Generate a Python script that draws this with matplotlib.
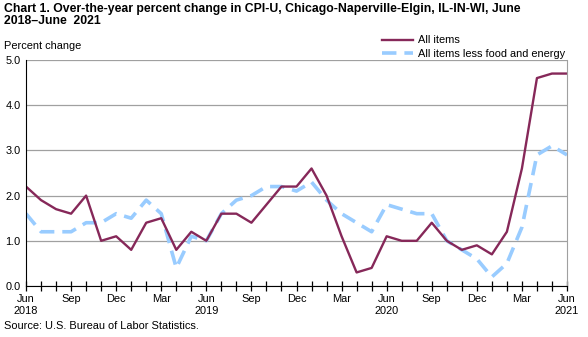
import matplotlib.pyplot as plt
import numpy as np

plt.rcParams['font.family'] = ['Liberation Sans', 'DejaVu Sans']

months = ['Jun\n2018', 'Jul', 'Aug', 'Sep', 'Oct', 'Nov', 'Dec',
          'Jan', 'Feb', 'Mar', 'Apr', 'May', 'Jun\n2019', 'Jul', 'Aug', 'Sep', 'Oct', 'Nov', 'Dec',
          'Jan', 'Feb', 'Mar', 'Apr', 'May', 'Jun\n2020', 'Jul', 'Aug', 'Sep', 'Oct', 'Nov', 'Dec',
          'Jan', 'Feb', 'Mar', 'Apr', 'May', 'Jun\n2021']

all_items = [2.2, 1.9, 1.7, 1.6, 2.0, 1.0, 1.1, 0.8, 1.4, 1.5, 0.8, 1.2, 1.0,
             1.6, 1.6, 1.4, 1.8, 2.2, 2.2, 2.6, 2.0, 1.1, 0.3, 0.4, 1.1,
             1.0, 1.0, 1.4, 1.0, 0.8, 0.9, 0.7, 1.2, 2.6, 4.6, 4.7, 4.7]

core = [1.6, 1.2, 1.2, 1.2, 1.4, 1.4, 1.6, 1.5, 1.9, 1.6, 0.4, 1.1, 1.0,
        1.6, 1.9, 2.0, 2.2, 2.2, 2.1, 2.3, 1.9, 1.6, 1.4, 1.2, 1.8,
        1.7, 1.6, 1.6, 1.0, 0.8, 0.6, 0.2, 0.5, 1.3, 2.9, 3.1, 2.9]

yticks = [0.0, 1.0, 2.0, 3.0, 4.0, 5.0]
fs = 7.9

fig = plt.figure(figsize=(5.88, 3.37), dpi=100)
ax = fig.add_axes([26 / 588, 1 - 286 / 337, (567 - 26) / 588, (286 - 60) / 337])

x = np.arange(len(months))
ax.plot(x, core, color='#99ccff', lw=2.6, dashes=(4, 2.2), label='All items less food and energy')
ax.plot(x, all_items, color='#862859', lw=1.7, label='All items')

ax.set_xlim(0, len(months) - 1)
ax.set_ylim(0, 5)
ax.set_yticks(yticks)
ax.set_yticklabels(['%.1f' % v for v in yticks])
ax.yaxis.grid(True, color='#a0a0a0', lw=0.9)
ax.set_axisbelow(True)

ax.set_xticks(x)
ax.set_xticklabels([m if i % 3 == 0 else '' for i, m in enumerate(months)])
ax.tick_params(axis='x', direction='inout', length=7, width=0.9, labelsize=fs, pad=2)
ax.tick_params(axis='y', length=0, labelsize=fs, pad=4)
for lab in ax.get_xticklabels():
    lab.set_linespacing(1.3)

ax.spines['top'].set_visible(False)
ax.spines['right'].set_color('#a0a0a0')
ax.spines['left'].set_color('black')
ax.spines['bottom'].set_color('black')

fig.text(4 / 588, 1 - 3 / 337,
         'Chart 1. Over-the-year percent change in CPI-U, Chicago-Naperville-Elgin, IL-IN-WI, June\n2018\u2013June  2021',
         fontsize=8.8, fontweight='bold', va='top', ha='left', linespacing=1.0)
fig.text(4 / 588, 1 - 46 / 337, 'Percent change', fontsize=fs, va='center', ha='left')
fig.text(4 / 588, 1 - 326 / 337, 'Source: U.S. Bureau of Labor Statistics.', fontsize=fs, va='center', ha='left')

h, l = ax.get_legend_handles_labels()
fig.legend(h[::-1], l[::-1], loc='upper right', bbox_to_anchor=(571 / 588, 1 - 30 / 337),
           frameon=False, fontsize=fs, handlelength=2.9, handletextpad=0.45,
           labelspacing=0.35, borderpad=0)

fig.savefig('out.png', dpi=100)
